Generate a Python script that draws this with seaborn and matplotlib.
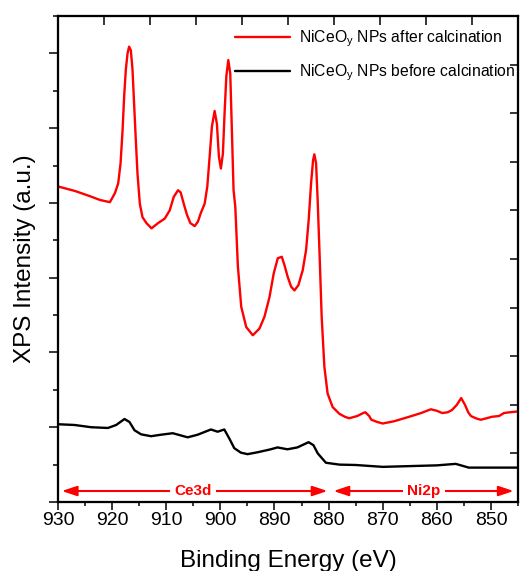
import numpy as np
import pandas as pd
import matplotlib
matplotlib.use("Agg")
import matplotlib.pyplot as plt
import seaborn as sns
from matplotlib.lines import Line2D
from matplotlib.ticker import MultipleLocator, NullFormatter

# ---- data (binding energy in eV, intensity in arbitrary units) ----
after_ev = [930.0, 926.87, 924.10, 922.26, 920.41, 919.49, 918.88, 918.44, 918.07, 917.78,
            917.47, 917.15, 916.86, 916.54, 916.23, 915.94, 915.62, 915.31, 914.88, 914.39,
            913.65, 912.73, 911.51, 910.28, 909.36, 908.62, 907.82, 907.33, 906.77, 906.16,
            905.54, 904.75, 904.14, 903.64, 902.90, 902.41, 901.98, 901.56, 901.06, 900.64,
            900.27, 899.90, 899.53, 899.22, 898.90, 898.53, 898.17, 897.87, 897.56, 897.24,
            896.76, 896.14, 895.22, 894.00, 892.77, 891.84, 890.92, 890.13, 889.39, 888.65,
            888.16, 887.55, 886.92, 886.31, 885.58, 884.78, 884.16, 883.68, 883.24, 882.87,
            882.63, 882.31, 882.02, 881.65, 881.28, 880.78, 880.18, 879.25, 878.02, 877.0,
            876.2, 874.7, 873.6, 873.2, 872.5, 872.1, 871.0, 870.0, 867.9, 865.1,
            862.9, 861.1, 860.0, 859.0, 858.0, 857.2, 856.3, 855.5, 854.8, 854.2,
            853.7, 852.8, 851.9, 850.8, 849.8, 848.5, 847.6, 846.5, 845.2]
after_int = [4.22, 4.16, 4.09, 4.04, 4.01, 4.13, 4.26, 4.53, 4.97, 5.42,
             5.78, 6.00, 6.09, 6.04, 5.78, 5.33, 4.84, 4.39, 3.99, 3.81,
             3.73, 3.66, 3.73, 3.79, 3.90, 4.08, 4.17, 4.14, 3.99, 3.84,
             3.73, 3.69, 3.75, 3.86, 3.99, 4.22, 4.62, 5.02, 5.23, 5.06,
             4.62, 4.46, 4.66, 5.20, 5.69, 5.91, 5.73, 4.97, 4.17, 3.95,
             3.15, 2.61, 2.34, 2.23, 2.32, 2.48, 2.74, 3.06, 3.26, 3.28,
             3.17, 3.01, 2.88, 2.83, 2.90, 3.10, 3.37, 3.77, 4.26, 4.57,
             4.65, 4.53, 4.04, 3.28, 2.48, 1.81, 1.45, 1.27, 1.18, 1.14,
             1.12, 1.15, 1.19, 1.20, 1.15, 1.10, 1.07, 1.05, 1.08, 1.14,
             1.19, 1.24, 1.22, 1.19, 1.20, 1.23, 1.30, 1.39, 1.30, 1.20,
             1.15, 1.12, 1.10, 1.12, 1.14, 1.15, 1.19, 1.20, 1.21]

before_ev = [930.0, 926.93, 923.86, 920.78, 919.25, 917.71, 916.79, 915.87, 914.65, 912.80,
             910.96, 908.80, 906.04, 904.19, 901.74, 900.51, 899.27, 898.35, 897.43, 896.21,
             894.98, 893.13, 890.68, 889.45, 887.60, 885.76, 883.7, 882.8, 882.0, 880.5,
             878.0, 875.0, 870.0, 865.0, 860.0, 856.5, 854.1, 850.0, 845.2]
before_int = [1.04, 1.03, 1.00, 0.99, 1.03, 1.11, 1.07, 0.96, 0.905, 0.88,
              0.90, 0.92, 0.865, 0.90, 0.97, 0.94, 0.97, 0.85, 0.72, 0.66,
              0.64, 0.665, 0.705, 0.73, 0.705, 0.73, 0.80, 0.76, 0.65, 0.525,
              0.50, 0.495, 0.47, 0.48, 0.49, 0.51, 0.46, 0.46, 0.46]

series_labels = ["NiCeO$_\\mathregular{y}$ NPs after calcination",
                 "NiCeO$_\\mathregular{y}$ NPs before calcination"]
series_colors = ["#ff0000", "#000000"]

region_labels = ["Ce3d", "Ni2p"]
region_starts = [929.3, 879.1]
region_ends = [880.2, 845.8]
region_text_x = [905.1, 862.4]
region_y = 0.147

xtick_values = [930, 920, 910, 900, 890, 880, 870, 860, 850]

# ---- style ----
sns.set_style("ticks")
plt.rcParams["font.family"] = ["Liberation Sans", "DejaVu Sans"]
plt.rcParams["mathtext.fontset"] = "custom"
plt.rcParams["mathtext.rm"] = "Liberation Sans"
plt.rcParams["mathtext.it"] = "Liberation Sans:italic"
plt.rcParams["mathtext.bf"] = "Liberation Sans:bold"
plt.rcParams["text.color"] = "black"
plt.rcParams["axes.labelcolor"] = "black"
plt.rcParams["xtick.color"] = "black"
plt.rcParams["ytick.color"] = "black"
plt.rcParams["axes.edgecolor"] = "black"

W, H = 520, 571
fig = plt.figure(figsize=(W / 100, H / 100), dpi=100)
ax = fig.add_axes([58 / W, 1 - 502 / H, 460 / W, 486 / H])

df_after = pd.DataFrame({"ev": after_ev, "intensity": after_int})
df_before = pd.DataFrame({"ev": before_ev, "intensity": before_int})
sns.lineplot(data=df_after, x="ev", y="intensity", color=series_colors[0],
             linewidth=1.7, estimator=None, ax=ax)
sns.lineplot(data=df_before, x="ev", y="intensity", color=series_colors[1],
             linewidth=1.7, estimator=None, ax=ax)

ax.set_xlim(930, 845)
ax.set_ylim(0, 6.5)
ax.set_xticks(xtick_values)
ax.set_xticklabels([str(v) for v in xtick_values])
ax.xaxis.set_minor_locator(MultipleLocator(5))
ax.yaxis.set_major_locator(MultipleLocator(1))
ax.yaxis.set_minor_locator(MultipleLocator(0.5))
ax.yaxis.set_major_formatter(NullFormatter())

ax.tick_params(axis="x", which="major", direction="out", length=5.8, width=1.1,
               labelsize=14, pad=1.5, color="black", labelcolor="black")
ax.tick_params(axis="x", which="minor", direction="out", length=3.0, width=1.1,
               color="black")
ax.tick_params(axis="y", which="major", direction="out", length=6.5, width=1.1,
               left=True, labelleft=False, color="black")
ax.tick_params(axis="y", which="minor", direction="out", length=3.6, width=1.1,
               left=True, color="black")

for sp in ax.spines.values():
    sp.set_linewidth(1.5)
    sp.set_color("black")
    sp.set_visible(True)

ax.set_xlabel("Binding Energy (eV)", fontsize=17.5, labelpad=15, color="black")
ax.set_ylabel("XPS Intensity (a.u.)", fontsize=17.5, labelpad=9, color="black")

# secondary top / right frames with inward ticks
axt = ax.twiny()
axt.set_xlim(0, 10)
axt.set_xticks(range(11))
axt.tick_params(axis="x", direction="in", length=6.5, width=1.1, top=True,
                labeltop=False, bottom=False, color="black")
axr = ax.twinx()
axr.set_ylim(0, 10)
axr.set_yticks(range(11))
axr.tick_params(axis="y", direction="in", length=5.8, width=1.1, right=True,
                labelright=False, left=False, color="black")
for a in (axt, axr):
    for sp in a.spines.values():
        sp.set_linewidth(1.5)
        sp.set_color("black")

# region arrows
for lab, x0, x1, xt in zip(region_labels, region_starts, region_ends, region_text_x):
    ax.annotate("", xy=(x1, region_y), xytext=(x0, region_y),
                arrowprops=dict(arrowstyle="<|-|>,head_length=0.9,head_width=0.3",
                                color="#ff0000", lw=1.5, shrinkA=0, shrinkB=0,
                                mutation_scale=10))
    ax.text(xt, region_y, lab, color="#ff0000", fontsize=11, fontweight="bold",
            ha="center", va="center",
            bbox=dict(facecolor="white", edgecolor="none", pad=3))

handles = [Line2D([], [], color=c, linewidth=1.7) for c in series_colors]
leg = ax.legend(handles=handles, labels=series_labels, loc="upper right",
                bbox_to_anchor=(0.995, 0.975), frameon=False, fontsize=11.3,
                handlelength=3.5, handletextpad=0.6, labelspacing=0.9,
                borderaxespad=0, borderpad=0)
for t in leg.get_texts():
    t.set_color("black")

fig.savefig("out.png", dpi=100)
